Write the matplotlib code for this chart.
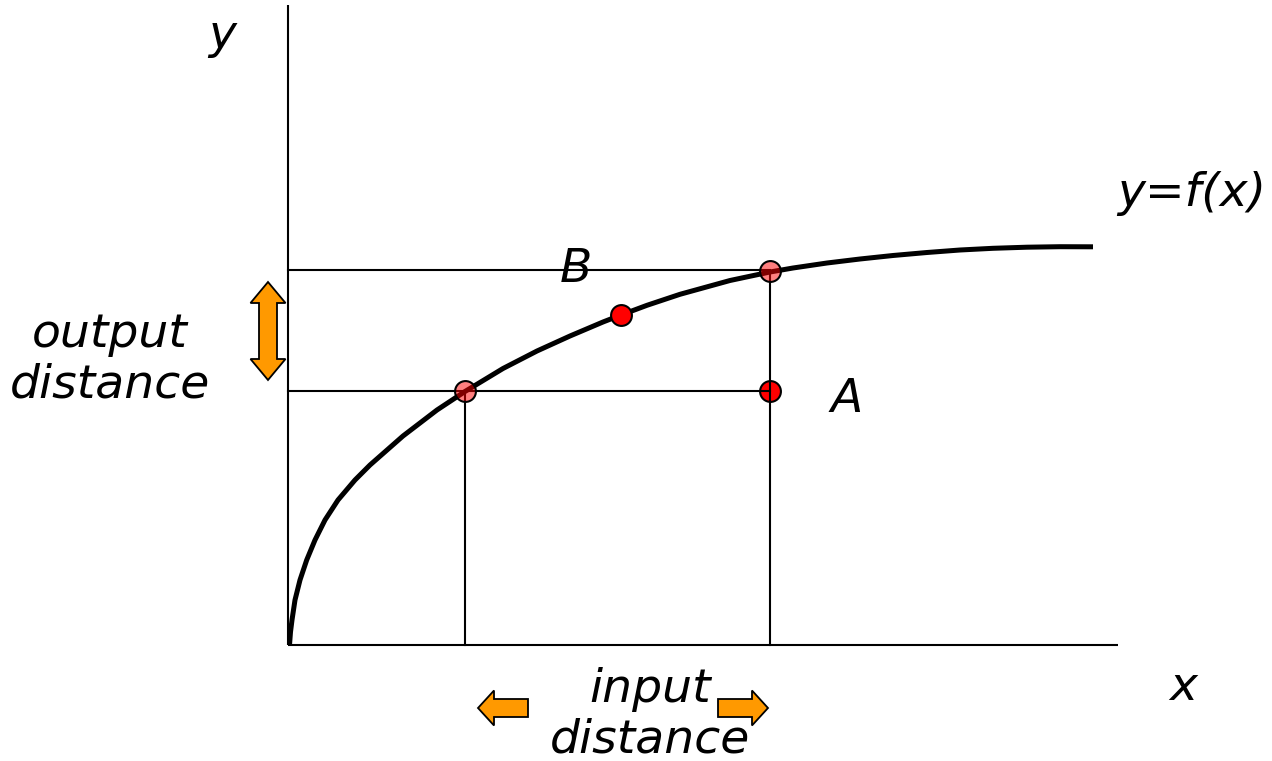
import numpy as np
import matplotlib.pyplot as plt
import matplotlib.patches as mpatches

# curve y=f(x) (diagram units, origin at the axes corner)
curve_x = [1.5, 2.5, 4, 7, 12, 18.7, 27, 37, 50, 67, 82, 115, 149, 177, 215, 249, 282, 315, 333,
           359, 392, 442, 482, 505, 539, 572, 605, 639, 672, 705, 739, 772, 805]
curve_y = [0, 13, 25, 45, 65, 85, 105, 125, 145, 165, 180, 209, 235, 253.5, 276.5, 294, 309, 323, 330,
           339.7, 350.7, 364.5, 373, 377, 382, 386, 389.5, 392.5, 395, 396.7, 397.8, 398.3, 398.2]

# the two points whose distances are compared
x1, y1 = 177, 254
x2, y2 = 482, 374
mid_x, mid_y = 333, 330      # point on curve between them
a_x, a_y = 482, 254          # point A (same output as x1)

x_axis_len = 830
y_axis_len = 640

font = dict(family='DejaVu Sans', style='italic', fontsize=34, color='black')
orange = '#FF9900'

fig = plt.figure(figsize=(12.72, 7.61), dpi=100)
ax = fig.add_axes([0, 0, 1, 1])
ax.set_xlim(-288, 984)
ax.set_ylim(-116, 645)
ax.axis('off')

# axes
ax.plot([0, 0], [0, y_axis_len], color='black', lw=1.5, solid_capstyle='butt')
ax.plot([0, x_axis_len], [0, 0], color='black', lw=1.5, solid_capstyle='butt')

# guide lines
ax.plot([0, x2], [y2 + 1, y2 + 1], color='black', lw=1.5, zorder=2)
ax.plot([0, x2], [y1, y1], color='black', lw=1.5, zorder=2)
ax.plot([x1, x1], [0, y1], color='black', lw=1.5, zorder=2)
ax.plot([x2, x2], [0, y2], color='black', lw=1.5, zorder=2)

# the function
ax.plot(curve_x, curve_y, color='black', lw=3.6, zorder=3,
        solid_capstyle='butt', solid_joinstyle='round')

# markers
ax.plot([a_x], [a_y], 'o', ms=15, mfc='red', mec='black', mew=1.5, zorder=1.5)
ax.plot([mid_x], [mid_y], 'o', ms=15, mfc='red', mec='black', mew=1.5, zorder=4)
ax.plot([x1, x2], [y1, y2], 'o', ms=15, mfc=(1, 0, 0, 0.5), mec='black', mew=1.5, zorder=4)

# labels
ax.text(-66, 610, 'y', ha='center', va='center', **font)
ax.text(895, -43, 'x', ha='center', va='center', **font)
ax.text(288, 375, 'B', ha='center', va='center', **font)
ax.text(559, 245, 'A', ha='center', va='center', **font)
ax.text(904, 452, 'y=f(x)', ha='center', va='center', **font)
ax.text(-178, 285, 'output\ndistance', ha='center', va='center', linespacing=1.15, **font)
ax.text(362, -70, 'input\ndistance', ha='center', va='center', linespacing=1.15, **font)

# orange arrows
def arrow(x, y, dx):
    ax.add_patch(mpatches.FancyArrow(x, y, dx, 0, width=18, head_width=35, head_length=16,
                                     length_includes_head=True, fc=orange, ec='black',
                                     lw=1.3, zorder=5))

# double arrow for output distance
cx, top, bot = -20, 363, 265
hw, bw, hl = 17.5, 9, 21
dbl = [(cx, top), (cx + hw, top - hl), (cx + bw, top - hl), (cx + bw, bot + hl),
       (cx + hw, bot + hl), (cx, bot), (cx - hw, bot + hl), (cx - bw, bot + hl),
       (cx - bw, top - hl), (cx - hw, top - hl)]
ax.add_patch(mpatches.Polygon(dbl, closed=True, fc=orange, ec='black', lw=1.3, zorder=5))

arrow(240, -63, -50)
arrow(430, -63, 50)

fig.savefig('out.png', dpi=100)
